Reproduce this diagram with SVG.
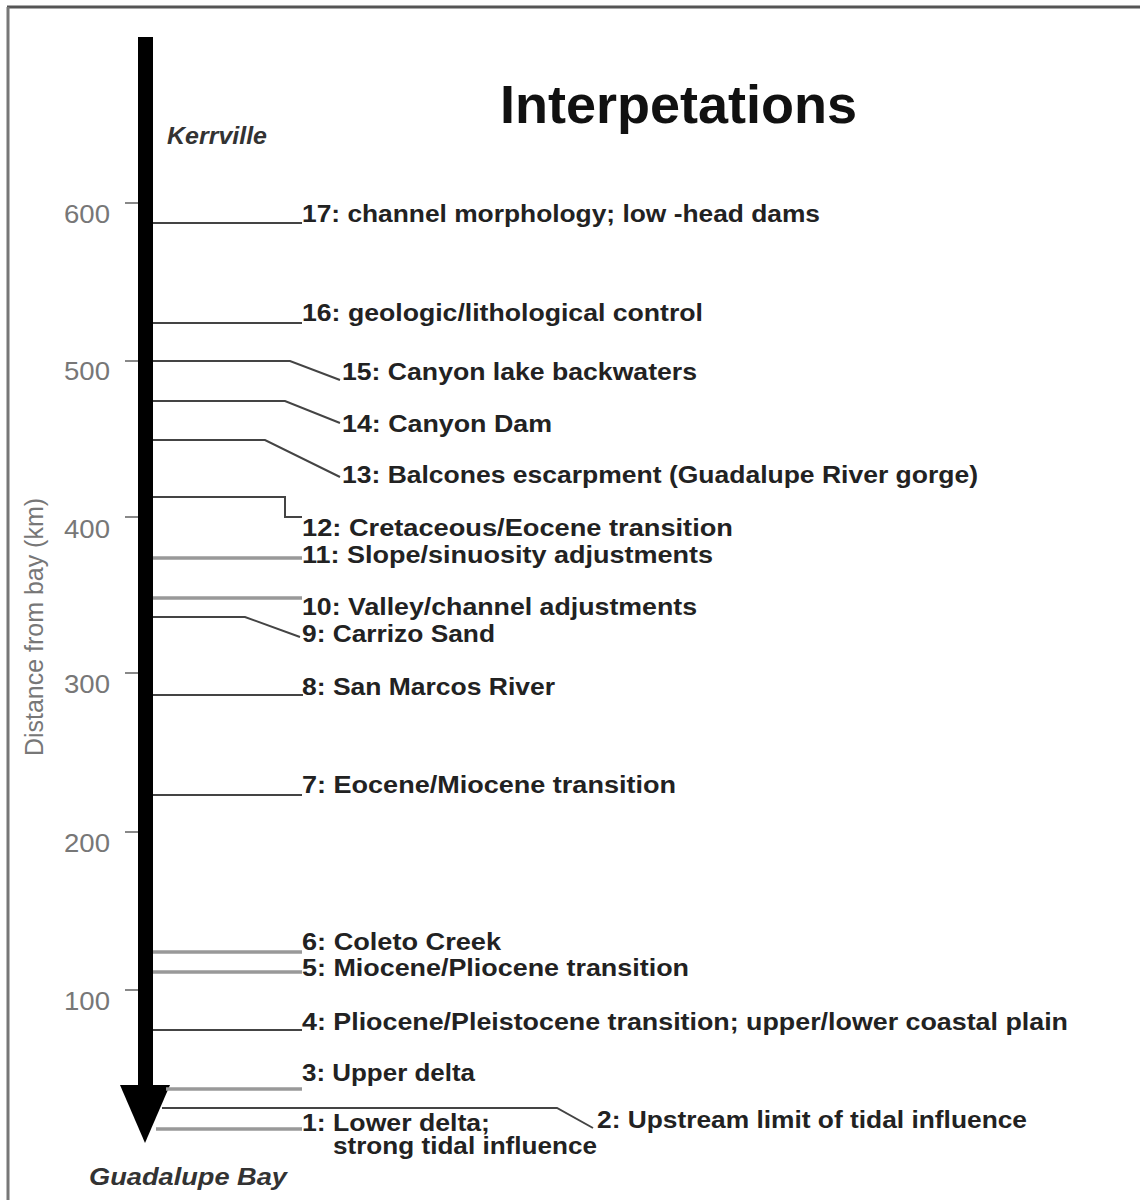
<svg xmlns="http://www.w3.org/2000/svg" width="1140" height="1200" viewBox="0 0 1140 1200">
<style>
.lbl{font-family:"Liberation Sans",Arial,sans-serif;font-weight:bold;font-size:23px;fill:#222}
.tick{font-family:"Liberation Sans",Arial,sans-serif;font-size:25px;fill:#777}
.place{font-family:"Liberation Sans",Arial,sans-serif;font-weight:bold;font-style:italic;font-size:23px;fill:#333}
.c{fill:none;stroke:#444;stroke-width:2}
.g{fill:none;stroke:#999;stroke-width:3.5}
.t{stroke:#888;stroke-width:2}
</style>
<rect x="0" y="0" width="1140" height="1200" fill="#fff"/>
<g id="frame">
<line x1="7" y1="7" x2="1140" y2="7" stroke="#555" stroke-width="3"/>
<line x1="8" y1="7" x2="8" y2="1200" stroke="#777" stroke-width="3"/>
</g>
<g id="title"><text x="500" y="123" font-family="Liberation Sans, Arial, sans-serif" font-weight="bold" font-size="54" fill="#111" textLength="357" lengthAdjust="spacingAndGlyphs">Interpetations</text></g>
<g id="axis">
<rect x="138" y="37" width="15" height="1052" fill="#000"/>
<polygon points="120,1085 170,1085 145,1143" fill="#000"/>
<line class="t" x1="125" y1="203" x2="138" y2="203"/>
<line class="t" x1="125" y1="361" x2="138" y2="361"/>
<line class="t" x1="125" y1="517" x2="138" y2="517"/>
<line class="t" x1="125" y1="673" x2="138" y2="673"/>
<line class="t" x1="125" y1="832" x2="138" y2="832"/>
<line class="t" x1="125" y1="990" x2="138" y2="990"/>
<text class="tick" x="110" y="223" text-anchor="end" textLength="46" lengthAdjust="spacingAndGlyphs">600</text>
<text class="tick" x="110" y="380" text-anchor="end" textLength="46" lengthAdjust="spacingAndGlyphs">500</text>
<text class="tick" x="110" y="538" text-anchor="end" textLength="46" lengthAdjust="spacingAndGlyphs">400</text>
<text class="tick" x="110" y="693" text-anchor="end" textLength="46" lengthAdjust="spacingAndGlyphs">300</text>
<text class="tick" x="110" y="852" text-anchor="end" textLength="46" lengthAdjust="spacingAndGlyphs">200</text>
<text class="tick" x="110" y="1010" text-anchor="end" textLength="46" lengthAdjust="spacingAndGlyphs">100</text>
<text class="tick" transform="translate(43,627) rotate(-90)" text-anchor="middle" font-size="22" textLength="258" lengthAdjust="spacingAndGlyphs">Distance from bay (km)</text>
</g>
<g id="kerrville"><text class="place" x="167" y="144" textLength="100" lengthAdjust="spacingAndGlyphs">Kerrville</text></g>
<g id="guadalupe-bay"><text class="place" x="89" y="1185" textLength="198" lengthAdjust="spacingAndGlyphs">Guadalupe  Bay</text></g>
<g id="connectors">
<polyline class="c" points="153,223 302,223"/>
<polyline class="c" points="153,323 302,323"/>
<polyline class="c" points="153,361 290,361 340,380"/>
<polyline class="c" points="153,401 285,401 340,423"/>
<polyline class="c" points="153,440 265,440 340,477"/>
<polyline class="c" points="153,497 285,497 285,517 302,517"/>
<polyline class="g" points="153,558 302,558"/>
<polyline class="g" points="153,598 302,598"/>
<polyline class="c" points="153,617 245,617 300,637"/>
<polyline class="c" points="153,695 303,695"/>
<polyline class="c" points="153,795 302,795"/>
<polyline class="g" points="153,952 302,952"/>
<polyline class="g" points="153,972 302,972"/>
<polyline class="c" points="153,1030 302,1030"/>
<polyline class="g" points="166,1089 302,1089"/>
<polyline class="c" points="162,1108 557,1108 593,1128"/>
<polyline class="g" points="156,1129 302,1129"/>
</g>
<g id="n17"><text class="lbl" x="302" y="222" textLength="518" lengthAdjust="spacingAndGlyphs">17: channel  morphology; low -head dams</text></g>
<g id="n16"><text class="lbl" x="302" y="321" textLength="401" lengthAdjust="spacingAndGlyphs">16: geologic/lithological control</text></g>
<g id="n15"><text class="lbl" x="342" y="380" textLength="355" lengthAdjust="spacingAndGlyphs">15: Canyon lake backwaters</text></g>
<g id="n14"><text class="lbl" x="342" y="432" textLength="210" lengthAdjust="spacingAndGlyphs">14: Canyon Dam</text></g>
<g id="n13"><text class="lbl" x="342" y="483" textLength="636" lengthAdjust="spacingAndGlyphs">13: Balcones escarpment (Guadalupe River gorge)</text></g>
<g id="n12"><text class="lbl" x="302" y="536" textLength="431" lengthAdjust="spacingAndGlyphs">12: Cretaceous/Eocene transition</text></g>
<g id="n11"><text class="lbl" x="302" y="563" textLength="411" lengthAdjust="spacingAndGlyphs">11: Slope/sinuosity adjustments</text></g>
<g id="n10"><text class="lbl" x="302" y="615" textLength="395" lengthAdjust="spacingAndGlyphs">10: Valley/channel adjustments</text></g>
<g id="n9"><text class="lbl" x="302" y="642" textLength="193" lengthAdjust="spacingAndGlyphs">9: Carrizo Sand</text></g>
<g id="n8"><text class="lbl" x="302" y="695" textLength="253" lengthAdjust="spacingAndGlyphs">8: San Marcos River</text></g>
<g id="n7"><text class="lbl" x="302" y="793" textLength="374" lengthAdjust="spacingAndGlyphs">7: Eocene/Miocene transition</text></g>
<g id="n6"><text class="lbl" x="302" y="950" textLength="199" lengthAdjust="spacingAndGlyphs">6: Coleto Creek</text></g>
<g id="n5"><text class="lbl" x="302" y="976" textLength="387" lengthAdjust="spacingAndGlyphs">5: Miocene/Pliocene transition</text></g>
<g id="n4"><text class="lbl" x="302" y="1030" textLength="766" lengthAdjust="spacingAndGlyphs">4: Pliocene/Pleistocene transition; upper/lower coastal plain</text></g>
<g id="n3"><text class="lbl" x="302" y="1081" textLength="173" lengthAdjust="spacingAndGlyphs">3: Upper delta</text></g>
<g id="n2"><text class="lbl" x="597" y="1128" textLength="430" lengthAdjust="spacingAndGlyphs">2: Upstream limit of tidal influence</text></g>
<g id="n1"><text class="lbl" x="302" y="1131" textLength="188" lengthAdjust="spacingAndGlyphs">1: Lower delta;</text><text class="lbl" x="333" y="1154" textLength="264" lengthAdjust="spacingAndGlyphs">strong tidal influence</text></g>
</svg>
